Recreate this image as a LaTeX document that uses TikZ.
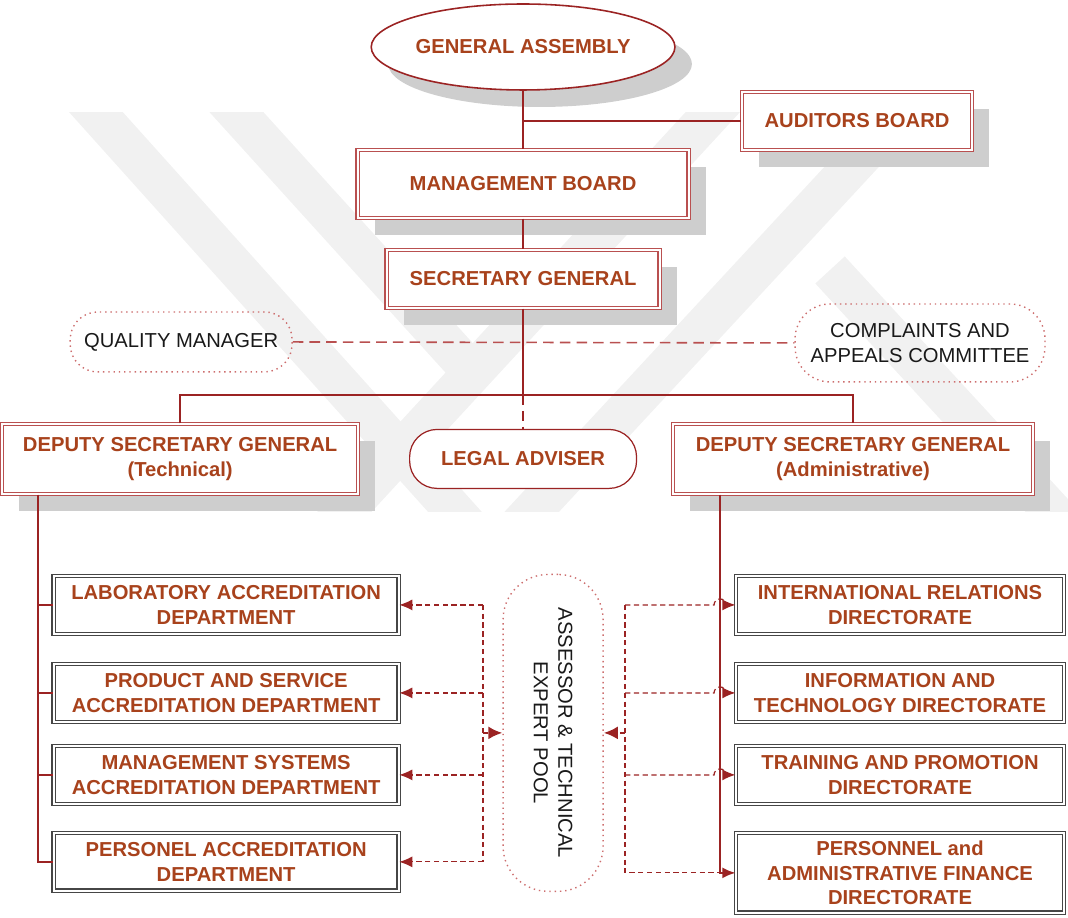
\documentclass[tikz,border=0pt]{standalone}
\usepackage{fontspec}
\setmainfont{Liberation Sans}
\usepackage{tikz}
\usetikzlibrary{arrows.meta,shapes.geometric,shadows,positioning}

\definecolor{linered}{RGB}{155,35,35}
\definecolor{boxred}{RGB}{185,80,80}
\definecolor{dotred}{RGB}{205,110,110}
\definecolor{txtbrown}{RGB}{168,66,28}
\definecolor{shade}{RGB}{206,206,206}
\definecolor{markgray}{RGB}{241,241,241}

\begin{document}
\begin{tikzpicture}[x=0.02cm, y=-0.02cm, semithick,
  bigfont/.style={font=\bfseries\fontsize{11.5}{14}\selectfont},
  shadowed/.style={fill=white, text=txtbrown, bigfont, align=center, inner sep=0pt,
    drop shadow={shadow xshift=0.34cm, shadow yshift=-0.34cm, fill=shade, opacity=1}},
  topbox/.style={shadowed, draw=boxred, line width=0.7pt, double=white, double distance=1.1pt},
  deptbox/.style={draw=gray!55!black, line width=0.8pt, double=white, double distance=1.1pt,
    fill=white, text=txtbrown, bigfont, align=center, inner sep=0pt},
  softbox/.style={draw=dotred, line width=0.8pt, dash pattern=on 0.8pt off 2.2pt,
    rounded corners=0.55cm, text=gray!20!black, align=center, inner sep=0pt,
    font=\fontsize{11.5}{14}\selectfont},
  mainline/.style={draw=linered, line width=0.8pt},
  trunkline/.style={draw=linered, line width=1.1pt},
  dashline/.style={draw=linered, line width=0.7pt, dash pattern=on 3pt off 2pt},
  dasharrow/.style={dashline, -{Latex[length=2.6mm, width=2.2mm]}},
  poolarrow/.style={draw=linered, line width=1.4pt, dash pattern=on 3pt off 1.5pt,
    -{Latex[length=2.8mm, width=2.6mm]}},
  markband/.style={draw=markgray, line width=0.8cm}]

% background mark
\begin{scope}
\clip (0,113) rectangle (1068,512);
\draw[markband] (40,50) -- (480,540);
\draw[markband] (180,50) -- (470,370);
\draw[markband] (770,50) -- (300,560);
\draw[markband] (960,50) -- (450,600);
\draw[markband] (830,270) -- (1060,520);
\end{scope}

% upper part
\node[shadowed, ellipse, draw=linered, line width=0.9pt, minimum width=5.96cm, minimum height=1.72cm] (ga) at (523,47) {GENERAL ASSEMBLY};
\node[topbox, minimum width=4.6cm, minimum height=1.16cm] (ab) at (857,121) {AUDITORS BOARD};
\node[topbox, minimum width=6.62cm, minimum height=1.36cm] (mb) at (523,184) {MANAGEMENT BOARD};
\node[topbox, minimum width=5.46cm, minimum height=1.16cm] (sg) at (523,279) {SECRETARY GENERAL};

\node[softbox, minimum width=4.44cm, minimum height=1.2cm] (qm) at (181,342) {QUALITY MANAGER};
\node[softbox, rounded corners=0.7cm, minimum width=5cm, minimum height=1.56cm] (cac) at (920,343) {COMPLAINTS AND\\APPEALS COMMITTEE};

\node[topbox, minimum width=7.12cm, minimum height=1.4cm] (dsgt) at (180,459) {DEPUTY SECRETARY GENERAL\\(Technical)};
\node[topbox, minimum width=7.2cm, minimum height=1.4cm] (dsga) at (853,459) {DEPUTY SECRETARY GENERAL\\(Administrative)};
\node[draw=linered, line width=0.7pt, fill=white, rounded corners=0.55cm, text=txtbrown, bigfont,
  minimum width=4.54cm, minimum height=1.18cm, inner sep=0pt] (la) at (523,459) {LEGAL ADVISER};

% departments
\node[deptbox, minimum width=6.9cm, minimum height=1.16cm] (lab) at (226,605) {LABORATORY ACCREDITATION\\DEPARTMENT};
\node[deptbox, minimum width=6.9cm, minimum height=1.16cm] (prod) at (226,693) {PRODUCT AND SERVICE\\ACCREDITATION DEPARTMENT};
\node[deptbox, minimum width=6.9cm, minimum height=1.16cm] (msys) at (226,775) {MANAGEMENT SYSTEMS\\ACCREDITATION DEPARTMENT};
\node[deptbox, minimum width=6.9cm, minimum height=1.16cm] (pers) at (226,862) {PERSONEL ACCREDITATION\\DEPARTMENT};

% directorates
\node[deptbox, minimum width=6.56cm, minimum height=1.16cm] (intl) at (900,605) {INTERNATIONAL RELATIONS\\DIRECTORATE};
\node[deptbox, minimum width=6.56cm, minimum height=1.16cm] (info) at (900,693) {INFORMATION AND\\TECHNOLOGY DIRECTORATE};
\node[deptbox, minimum width=6.56cm, minimum height=1.16cm] (train) at (900,775) {TRAINING AND PROMOTION\\DIRECTORATE};
\node[deptbox, minimum width=6.56cm, minimum height=1.6cm] (pafd) at (900,873) {PERSONNEL and\\ADMINISTRATIVE FINANCE\\DIRECTORATE};

% assessor pool
\node[softbox, rounded corners=0.9cm, minimum width=2cm, minimum height=6.34cm] (pool) at (553,733) {};
\node[rotate=-90, text=gray!20!black, align=center, font=\fontsize{11.5}{14}\selectfont] at (pool) {ASSESSOR \& TECHNICAL\\EXPERT POOL};

\coordinate (bus) at (523,395);
\coordinate (ltrunk) at (38,495);
\coordinate (rtrunk) at (720,495);
\coordinate (ljoin) at (483,733);
\coordinate (rjoin) at (625,733);

% solid lines
\draw[mainline] (ga.south) -- (mb.north);
\draw[mainline] (ga.south |- ab.west) -- (ab.west);
\draw[mainline] (mb.south) -- (sg.north);
\draw[mainline] (sg.south) -- (bus);
\draw[mainline] (dsgt.north) |- (bus) -| (dsga.north);
\draw[draw=linered, line width=0.7pt, dash pattern=on 6pt off 3pt] (bus) -- (la.north);
\draw[draw=boxred, line width=0.9pt, dash pattern=on 6pt off 3.5pt] (qm.east) -- (cac.west);

\draw[trunkline] (ltrunk |- dsgt.south) |- (pers.west);
\foreach \n in {lab,prod,msys}
  \draw[mainline] (ltrunk |- \n.west) -- (\n.west);

% dashed links to the pool
\draw[dashline] (ljoin |- lab.east) -- (ljoin |- pers.east);
\foreach \n in {lab,prod,msys,pers}
  \draw[dasharrow] (ljoin |- \n.east) -- (\n.east);
\draw[poolarrow] (ljoin) -- (pool.west);

\draw[dashline] (rjoin |- intl.west) -- (rjoin |- pafd.west) -- (rtrunk |- pafd.west);
\foreach \n in {intl,info,train}
  \draw[dasharrow] (rjoin |- \n.west) -- ++(89,0) arc[start angle=180, end angle=360, radius=6] -- (\n.west);
\draw[poolarrow] (rjoin) -- (pool.east);

\draw[trunkline, -{Latex[length=2.6mm, width=2.2mm]}] (rtrunk |- dsga.south) |- (pafd.west);

\useasboundingbox (0,0) rectangle (1068,918);
\end{tikzpicture}
\end{document}
